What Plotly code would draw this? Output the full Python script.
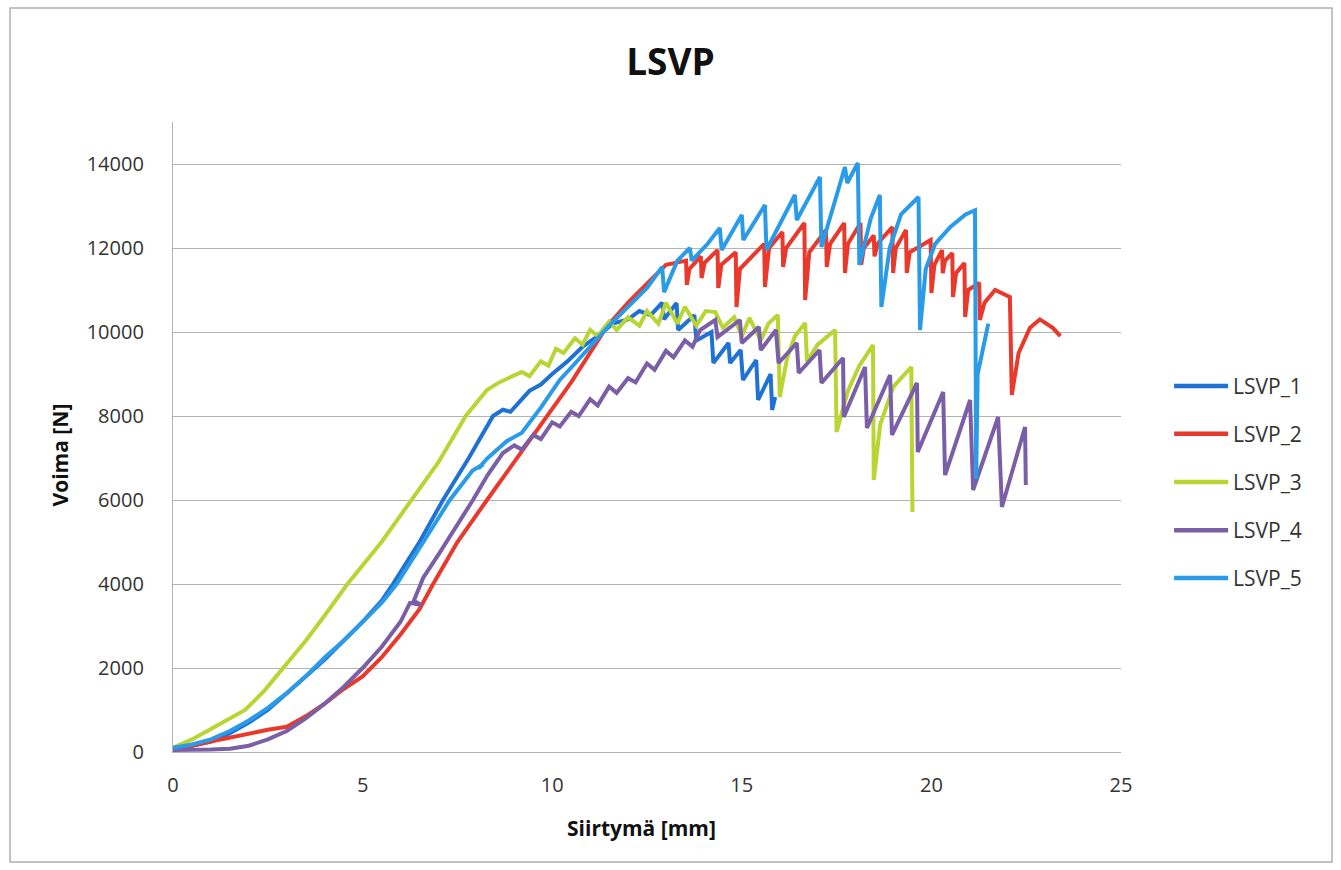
import plotly.graph_objects as go

# ---- data ----
names = ["LSVP_1", "LSVP_2", "LSVP_3", "LSVP_4", "LSVP_5"]
colors = ["#1f72d4", "#e8392c", "#b9d534", "#7b5fa6", "#2a9be8"]

x1 = [0, 0.5, 1, 1.5, 2, 2.5, 3, 3.5, 4, 4.5, 5, 5.5, 5.8, 6.5, 7.12, 7.8, 8.44, 8.7, 8.9, 9.1,
      9.4, 9.7, 10, 10.4, 10.8, 11.2, 11.6, 12.0, 12.3, 12.6, 12.9, 12.95, 13.28, 13.32, 13.75, 13.8,
      14.2, 14.25, 14.65, 14.69, 14.97, 15.03, 15.38, 15.43, 15.76, 15.8, 15.88]
y1 = [100, 150, 250, 450, 700, 1000, 1400, 1800, 2200, 2650, 3100, 3600, 4000, 5000, 6000, 7000, 8000, 8150, 8100, 8300,
      8600, 8750, 9000, 9300, 9650, 9900, 10200, 10300, 10500, 10400, 10700, 10300, 10690, 10048, 10400, 9800,
      10000, 9262, 9738, 9262, 9571, 8857, 9333, 8381, 9000, 8143, 8452]

x2 = [0, 0.5, 1, 1.5, 2, 2.5, 3, 3.5, 4, 4.5, 5, 5.5, 6, 6.5, 6.86, 7.5, 8.28, 9.0, 9.86, 10.5,
      11.44, 12.0, 12.5, 13.0, 13.53, 13.55, 13.62, 13.92, 13.94, 14.02, 14.36, 14.38, 14.46, 14.84, 14.86,
      14.95, 15.59, 15.61, 15.72, 16.07, 16.09, 16.17, 16.65, 16.67, 16.78, 17.22, 17.24, 17.33, 17.70, 17.72,
      17.8, 18.13, 18.15, 18.22, 18.48, 18.5, 18.58, 18.97, 18.99, 19.06, 19.33, 19.35, 19.43, 19.98, 20.0,
      20.08, 20.28, 20.3, 20.36, 20.55, 20.57, 20.65, 20.87, 20.89, 20.97, 21.26, 21.28, 21.4, 21.68, 22.07,
      22.12, 22.3, 22.6, 22.86, 23.2, 23.4]
y2 = [100, 150, 250, 350, 450, 530, 600, 850, 1150, 1500, 1800, 2250, 2800, 3400, 4000, 5000, 6000, 6900, 8000, 8800,
      10127, 10700, 11150, 11600, 11700, 11119, 11500, 11800, 11286, 11650, 11950, 11048, 11600, 11900, 10595,
      11500, 12100, 11071, 12000, 12380, 11548, 12000, 12595, 10762, 11900, 12430, 11548, 12100, 12595, 11405,
      12100, 12595, 11600, 12000, 12300, 11800, 12100, 12500, 11405, 12000, 12430, 11405, 11900, 12190, 10929,
      11600, 11950, 11400, 11700, 11880, 10833, 11400, 11640, 10357, 11000, 11170, 10286, 10700, 11000, 10833,
      8500, 9500, 10100, 10300, 10100, 9900]

x3 = [0, 0.5, 1, 1.5, 1.9, 2.4, 2.9, 3.5, 4.0, 4.6, 5.5, 6.3, 7.0, 7.72, 8.28, 8.6, 9.0, 9.2, 9.4, 9.7,
      9.9, 10.1, 10.3, 10.6, 10.8, 11.0, 11.2, 11.5, 11.7, 12.0, 12.3, 12.5, 12.8, 13.0, 13.3, 13.5, 13.8,
      14.05, 14.3, 14.5, 14.8, 15.0, 15.2, 15.5, 15.7, 15.95, 16.0, 16.2, 16.4, 16.67, 16.72, 17.0, 17.46,
      17.5, 17.8, 18.1, 18.46, 18.48, 18.65, 19.0, 19.47, 19.5]
y3 = [100, 300, 550, 800, 1000, 1450, 2000, 2650, 3250, 4000, 5000, 6000, 6900, 8000, 8619, 8800, 8950, 9050, 8950, 9300,
      9200, 9600, 9500, 9850, 9700, 10050, 9900, 10250, 10050, 10350, 10150, 10500, 10200, 10700, 10200, 10600, 10150,
      10500, 10476, 10100, 10350, 9900, 10333, 9800, 10200, 10405, 8452, 9400, 9900, 10214, 9300, 9700, 10048,
      7619, 8600, 9200, 9690, 6476, 7800, 8700, 9167, 5714]

x4 = [0, 0.5, 1, 1.5, 2, 2.5, 3, 3.5, 4, 4.5, 5, 5.5, 6, 6.25, 6.55, 6.35, 6.6, 7.0, 7.5, 7.91,
      8.3, 8.7, 9.0, 9.2, 9.5, 9.7, 10.0, 10.2, 10.5, 10.7, 11.0, 11.2, 11.5, 11.7, 12.0, 12.2, 12.5,
      12.7, 13.0, 13.2, 13.5, 13.7, 13.9, 14.3, 14.36, 14.95, 15.0, 15.45, 15.5, 15.9, 15.97, 16.45,
      16.5, 17.05, 17.1, 17.67, 17.69, 18.25, 18.3, 18.91, 18.96, 19.62, 19.64, 20.31, 20.36, 21.02,
      21.1, 21.76, 21.86, 22.47, 22.49]
y4 = [50, 50, 60, 80, 150, 300, 500, 800, 1150, 1550, 2000, 2500, 3100, 3550, 3500, 3600, 4150, 4700, 5400, 6000,
      6600, 7119, 7300, 7200, 7550, 7450, 7850, 7750, 8100, 8000, 8400, 8250, 8700, 8550, 8900, 8800, 9250,
      9100, 9550, 9400, 9800, 9650, 10048, 10286, 9881, 10286, 9738, 10119, 9571, 10048, 9262, 9738,
      9024, 9571, 8786, 9381, 7976, 9167, 7714, 8976, 7548, 8786, 7143, 8571, 6595, 8381,
      6238, 7976, 5833, 7738, 6357]

x5 = [0, 0.5, 1, 1.5, 2, 2.5, 3, 3.5, 4, 4.5, 5, 5.5, 5.9, 6.6, 7.3, 7.9, 8.18, 8.05, 8.3, 8.8,
      9.2, 9.7, 10.2, 10.6, 11.0, 11.5, 12.0, 12.5, 12.9, 12.95, 13.3, 13.63, 13.68, 14.1, 14.42, 14.47,
      15.0, 15.04, 15.61, 15.65, 16.4, 16.45, 17.06, 17.1, 17.72, 17.78, 18.06, 18.1, 18.4, 18.64, 18.68,
      18.9, 19.2, 19.66, 19.7, 19.85, 20.1, 20.5, 20.9, 21.15, 21.18, 21.22, 21.5]
y5 = [100, 180, 300, 500, 750, 1050, 1400, 1800, 2250, 2650, 3100, 3550, 4000, 5000, 6000, 6700, 6850, 6750, 7000, 7400,
      7600, 8200, 8860, 9250, 9650, 10150, 10600, 11050, 11550, 10950, 11700, 12000, 11700, 12100, 12476, 11952,
      12786, 12190, 13024, 11952, 13262, 12667, 13690, 12024, 13929, 13548, 14024, 11595, 12700, 13262, 10595,
      12000, 12800, 13214, 10048, 11500, 12100, 12500, 12800, 12900, 6500, 9000, 10200]

xs = [x1, x2, x3, x4, x5]
ys = [y1, y2, y3, y4, y5]

x_ticks = [0, 5, 10, 15, 20, 25]
y_ticks = [0, 2000, 4000, 6000, 8000, 10000, 12000, 14000]
y_ticktext = ["0", "2000", "4000", "6000", "8000", "10000", "12000", "14000"]

FONT = "Open Sans"

fig = go.Figure()
for i in range(5):
    fig.add_trace(go.Scatter(
        x=xs[i], y=ys[i], mode="lines", name=names[i], showlegend=False,
        line=dict(color=colors[i], width=4)))

grid = "#b3b3b3"
fig.update_layout(
    width=1341, height=870,
    margin=dict(l=173, r=220, t=122, b=118),
    paper_bgcolor="white", plot_bgcolor="white",
    font=dict(family=FONT, color="#222222"),
    title=dict(text="<b>LSVP</b>", x=0.5, xanchor="center", y=0.929, yanchor="middle",
               font=dict(size=37, family=FONT, color="#111111")),
    xaxis=dict(range=[0, 25], tickvals=x_ticks, showgrid=False, zeroline=False,
               showline=True, linecolor=grid, linewidth=1.3, ticks="",
               tickfont=dict(size=20, color="#333333"), ticklabelstandoff=15),
    yaxis=dict(range=[0, 15000], tickvals=y_ticks, ticktext=y_ticktext, showgrid=True,
               gridcolor=grid, gridwidth=1.3,
               zeroline=False, showline=True, linecolor=grid, linewidth=1.3, ticks="",
               tickfont=dict(size=20, color="#333333"), ticklabelstandoff=24),
    showlegend=False,
)

fig.add_annotation(text="<b>Voima [N]</b>", xref="paper", yref="paper", x=-0.119, y=0.471,
                   textangle=-90, showarrow=False, font=dict(size=21, family=FONT, color="#111111"),
                   xanchor="center", yanchor="middle")
fig.add_annotation(text="<b>Siirtymä [mm]</b>", xref="paper", yref="paper", x=0.494, y=-0.1206,
                   showarrow=False, font=dict(size=21, family=FONT, color="#111111"),
                   xanchor="center", yanchor="middle")

# legend drawn by hand (long line samples as in the reference)
leg_y = [0.581, 0.505, 0.4286, 0.352, 0.276]
for i in range(5):
    fig.add_shape(type="line", xref="paper", yref="paper", x0=1.056, x1=1.113,
                  y0=leg_y[i], y1=leg_y[i], line=dict(color=colors[i], width=4.5))
    fig.add_annotation(text=names[i], xref="paper", yref="paper", x=1.116, y=leg_y[i],
                       xanchor="left", yanchor="middle", showarrow=False,
                       font=dict(size=21, family=FONT, color="#333333"))

# outer chart border
fig.add_shape(type="rect", xref="paper", yref="paper", x0=-0.1719, x1=1.2226, y0=-0.1746, y1=1.181,
              line=dict(color="#b0b0b0", width=1.5), fillcolor="rgba(0,0,0,0)", layer="below")

fig.write_html("out.html")
